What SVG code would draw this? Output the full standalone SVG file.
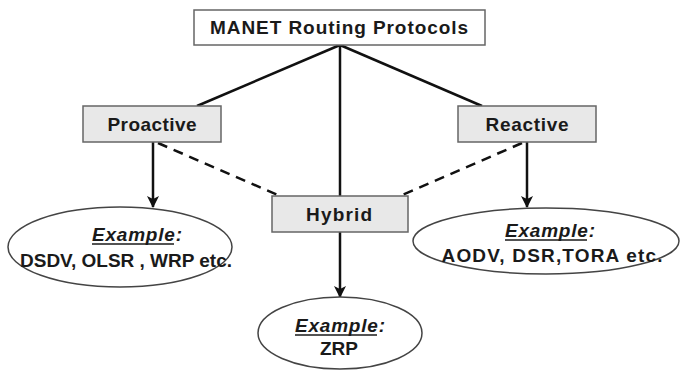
<svg xmlns="http://www.w3.org/2000/svg" width="684" height="373" viewBox="0 0 684 373">
<defs>
<marker id="ah" markerWidth="12" markerHeight="12" refX="11" refY="6" orient="auto" markerUnits="userSpaceOnUse">
<path d="M0,0 L12,6 L0,12 L3,6 Z" fill="#111"/>
</marker>
<style>
.box{fill:#e8e8e8;stroke:#666;stroke-width:1.5}
.top{fill:#fff;stroke:#666;stroke-width:1.5}
.ell{fill:#fff;stroke:#444;stroke-width:1.5}
.lbl{font-family:"Liberation Sans",Arial,sans-serif;font-weight:bold;font-size:19px;fill:#1a1a1a;text-anchor:middle}
.ex{font-family:"Liberation Sans",Arial,sans-serif;font-weight:bold;font-style:italic;font-size:19px;fill:#1a1a1a;text-anchor:middle}
.c{stroke:#111;stroke-width:2.5;fill:none}
.d{stroke:#111;stroke-width:2.5;fill:none;stroke-dasharray:10,7}
.ul{stroke:#1a1a1a;stroke-width:1.5}
</style>
</defs>
<g id="connectors">
<line class="c" x1="340" y1="45" x2="197" y2="106"/>
<line class="c" x1="340" y1="45" x2="482" y2="106"/>
<line class="c" x1="340" y1="45" x2="340" y2="196"/>
<line class="c" x1="153" y1="142" x2="153" y2="207" marker-end="url(#ah)"/>
<line class="c" x1="527" y1="142" x2="527" y2="207" marker-end="url(#ah)"/>
<line class="c" x1="340" y1="232" x2="340" y2="297" marker-end="url(#ah)"/>
<line class="d" x1="158" y1="143" x2="280" y2="196"/>
<line class="d" x1="522" y1="143" x2="400" y2="196"/>
</g>
<g id="manet">
<rect class="top" x="194" y="10" width="291" height="35"/>
<text class="lbl" x="339" y="34" textLength="258" lengthAdjust="spacing">MANET Routing Protocols</text>
</g>
<g id="proactive">
<rect class="box" x="83" y="106" width="138" height="36"/>
<text class="lbl" x="152" y="131" textLength="89" lengthAdjust="spacing">Proactive</text>
</g>
<g id="reactive">
<rect class="box" x="458" y="106" width="138" height="36"/>
<text class="lbl" x="527" y="131" textLength="83" lengthAdjust="spacing">Reactive</text>
</g>
<g id="hybrid">
<rect class="box" x="272" y="196" width="136" height="36"/>
<text class="lbl" x="339" y="221" textLength="66" lengthAdjust="spacing">Hybrid</text>
</g>
<g id="ex-proactive">
<ellipse class="ell" cx="120" cy="247" rx="112" ry="40"/>
<text class="ex" x="137" y="241" textLength="90" lengthAdjust="spacing">Example:</text>
<line class="ul" x1="92" y1="244" x2="174" y2="244"/>
<text class="lbl" x="126" y="267" textLength="212" lengthAdjust="spacing">DSDV, OLSR , WRP etc.</text>
</g>
<g id="ex-reactive">
<ellipse class="ell" cx="546" cy="241" rx="133" ry="33"/>
<text class="ex" x="550" y="237" textLength="90" lengthAdjust="spacing">Example:</text>
<line class="ul" x1="505" y1="240" x2="587" y2="240"/>
<text class="lbl" x="552" y="262" textLength="221" lengthAdjust="spacing">AODV, DSR,TORA etc.</text>
</g>
<g id="ex-hybrid">
<ellipse class="ell" cx="340" cy="333" rx="82" ry="36"/>
<text class="ex" x="340" y="332" textLength="90" lengthAdjust="spacing">Example:</text>
<line class="ul" x1="295" y1="335" x2="377" y2="335"/>
<text class="lbl" x="339" y="355" textLength="38" lengthAdjust="spacing">ZRP</text>
</g>
</svg>
